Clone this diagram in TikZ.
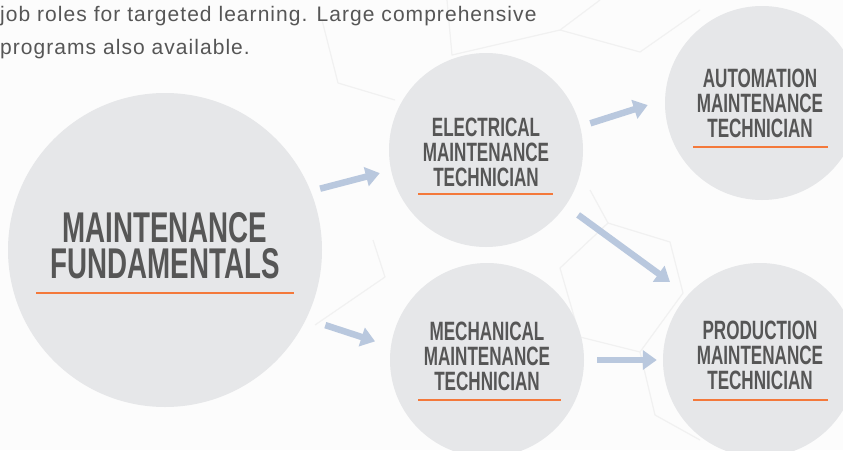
\documentclass[tikz,border=0pt]{standalone}
\usepackage{fontspec}
\setmainfont{Liberation Sans}
\newfontfamily\condfont{Liberation Sans}[FakeStretch=0.645]
\newfontfamily\parafont{Liberation Sans}[LetterSpace=5]
\usetikzlibrary{arrows.meta}
\definecolor{circfill}{HTML}{E6E7E9}
\definecolor{txtgray}{HTML}{565656}
\definecolor{arrowblue}{HTML}{B9C8DE}
\definecolor{uline}{HTML}{F4793B}
\definecolor{hexline}{HTML}{F1F1F1}
\definecolor{bgwhite}{HTML}{FCFCFC}
\begin{document}
\begin{tikzpicture}[x=1pt,y=-1pt,
  circ/.style={circle,fill=circfill,inner sep=0pt},
  bigcirc/.style={circ,minimum size=314pt},
  smallcirc/.style={circ,minimum size=194pt},
  title/.style={inner sep=0pt,align=center,text=txtgray,font=\condfont\bfseries\fontsize{26.5}{25}\selectfont},
  bigtitle/.style={title,font=\condfont\bfseries\fontsize{43}{35.5}\selectfont},
  underl/.style={draw=uline,line width=2.5pt},
  arr/.style={draw=arrowblue,line width=6.5pt,-{Triangle[length=14pt,width=19pt]}},
  hex/.style={draw=hexline,line width=1.2pt,line join=round}
]
\useasboundingbox[fill=bgwhite] (0,0) rectangle (843,450);

% faint hexagonal background pattern
\draw[hex] (322,20) -- (338,83) -- (395,100);
\draw[hex] (447,0) -- (452,55) -- (560,30) -- (600,0);
\draw[hex] (560,30) -- (640,52) -- (700,10);
\draw[hex] (608,223) -- (670,242) -- (683,293) -- (640,352) -- (580,337) -- (560,268) -- cycle;
\draw[hex] (640,352) -- (655,415) -- (700,440);
\draw[hex] (580,337) -- (560,400);
\draw[hex] (385,277) -- (373,240);
\draw[hex] (385,277) -- (315,325);
\draw[hex] (608,223) -- (590,190);

% paragraph
\node[anchor=north west,inner sep=0pt,align=left,text=txtgray,
  font=\parafont\fontsize{21}{33}\selectfont] (para) at (0,5.7)
  {job roles for targeted learning. Large comprehensive\\programs also available.};

% circles
\node[bigcirc] (big) at (165,250) {};
\node[smallcirc] (elec) at (486,150) {};
\node[smallcirc] (mech) at (487,360) {};
\node[smallcirc] (auto) at (762,103) {};
\node[smallcirc] (prod) at (760,360) {};

% titles
\node[bigtitle] (tbig) at (165,245.5) {MAINTENANCE\\FUNDAMENTALS};
\node[title] (telec) at (486,152) {ELECTRICAL\\MAINTENANCE\\TECHNICIAN};
\node[title] (tauto) at (760,103) {AUTOMATION\\MAINTENANCE\\TECHNICIAN};
\node[title] (tmech) at (487,356) {MECHANICAL\\MAINTENANCE\\TECHNICIAN};
\node[title] (tprod) at (760,355.5) {PRODUCTION\\MAINTENANCE\\TECHNICIAN};

% underlines
\draw[underl] (36,293) -- (294,293);
\draw[underl] (418,194) -- (553,194);
\draw[underl] (693,147) -- (828,147);
\draw[underl] (418,400) -- (561,400);
\draw[underl] (693,400) -- (828,400);

% arrows
\draw[arr,shorten <=9.7pt,shorten >=11.5pt] (big.22) -- (elec.192);
\draw[arr,shorten <=20pt,shorten >=16.5pt] (big.-26) -- (mech.172);
\draw[arr,shorten <=10.5pt,shorten >=18pt] (elec.14) -- (auto.178);
\draw[arr,shorten <=15.5pt,shorten >=22pt] (elec.-35) -- (prod.138);
\draw[arr,shorten <=13pt,shorten >=6pt] (mech.0) -- (prod.180);
\end{tikzpicture}
\end{document}
